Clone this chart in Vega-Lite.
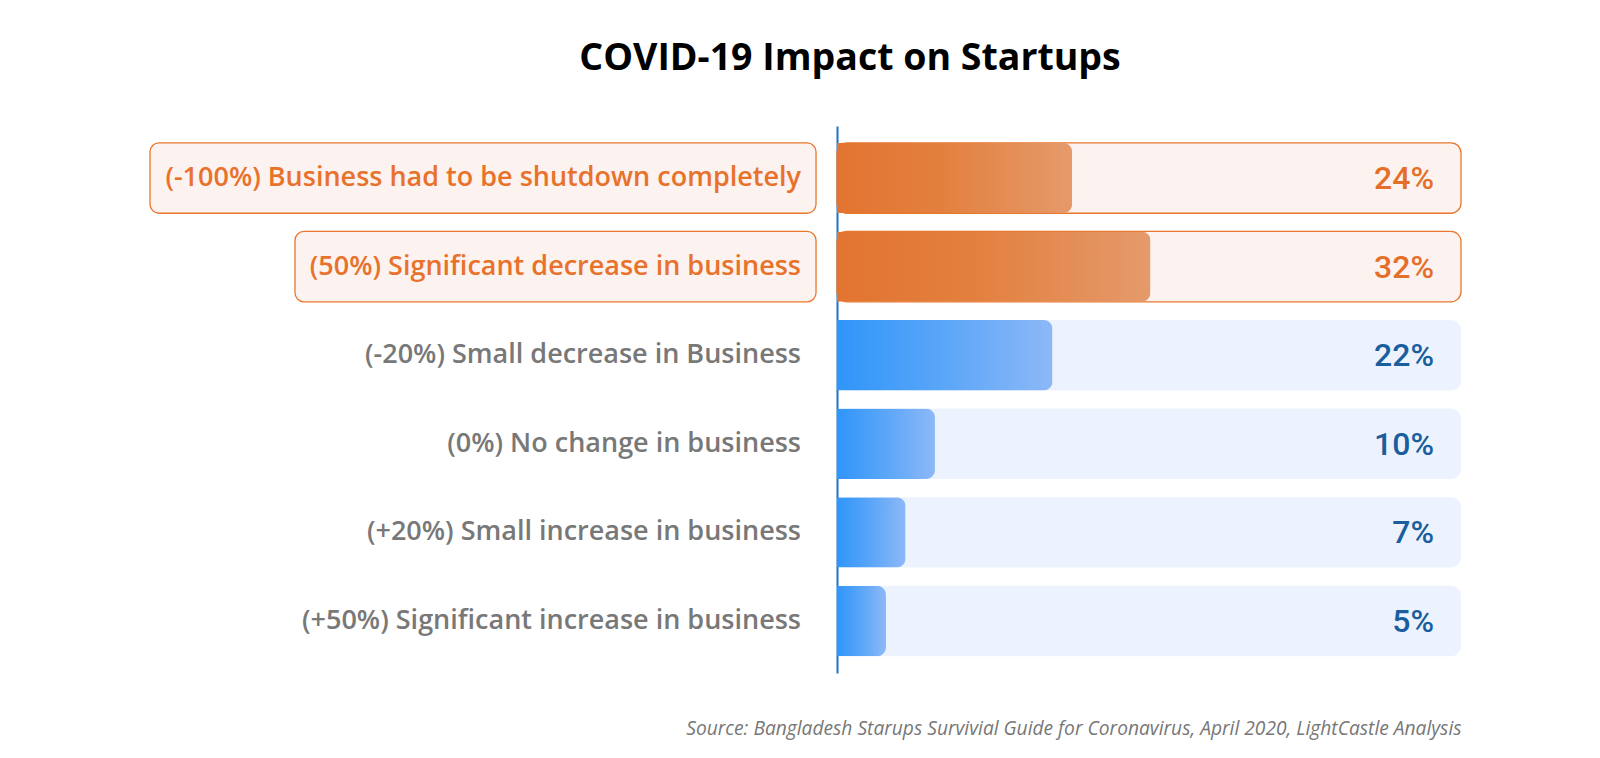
{
  "$schema": "https://vega.github.io/schema/vega-lite/v6.json",
  "autosize": "none",
  "width": 624,
  "height": 547,
  "padding": {"left": 837, "top": 126, "right": 139, "bottom": 85},
  "background": "#ffffff",
  "config": {"view": {"stroke": null}},
  "title": {
    "text": "COVID-19 Impact on Startups",
    "font": "Open Sans",
    "fontSize": 37.5,
    "fontWeight": "bold",
    "color": "#000000",
    "anchor": "middle",
    "frame": "group",
    "dx": -299,
    "baseline": "alphabetic",
    "offset": 19
  },
  "data": {
    "values": [
      {"label": "(-100%) Business had to be shutdown completely", "value": 24, "hl": true},
      {"label": "(50%) Significant decrease in business", "value": 32, "hl": true},
      {"label": "(-20%) Small decrease in Business", "value": 22, "hl": false},
      {"label": "(0%) No change in business", "value": 10, "hl": false},
      {"label": "(+20%) Small increase in business", "value": 7, "hl": false},
      {"label": "(+50%) Significant increase in business", "value": 5, "hl": false}
    ]
  },
  "transform": [
    {"calculate": "datum.value + '%'", "as": "pct"}
  ],
  "layer": [
    {
      "mark": {"type": "bar", "cornerRadius": 10, "stroke": "#E8762D", "strokeWidth": 1.3},
      "encoding": {
        "y": {
          "field": "label",
          "type": "nominal",
          "sort": null,
          "scale": {"paddingInner": 0.205, "paddingOuter": 0.19},
          "axis": {"labels": false, "ticks": false, "title": null, "domain": true, "domainColor": "#1B74C4", "domainWidth": 2}
        },
        "x": {
          "datum": 63.7,
          "type": "quantitative",
          "scale": {"domain": [0, 63.7], "nice": false, "zero": false},
          "axis": {
            "labels": false, "ticks": false, "domain": false, "grid": false,
            "title": "Source: Bangladesh Starups Survivial Guide for Coronavirus, April 2020, LightCastle Analysis",
            "titleFont": "Open Sans", "titleFontStyle": "italic", "titleFontWeight": "normal",
            "titleFontSize": 19.2, "titleColor": "#777777", "titleAnchor": "end", "titleAlign": "right",
            "titleBaseline": "alphabetic", "titlePadding": 61
          }
        },
        "fill": {"condition": {"test": "datum.hl", "value": "#FCF2EF"}, "value": "#EDF3FE"},
        "strokeOpacity": {"condition": {"test": "datum.hl", "value": 1}, "value": 0}
      }
    },
    {
      "transform": [{"filter": "datum.hl"}],
      "mark": {
        "type": "bar", "cornerRadiusEnd": 9,
        "color": {"gradient": "linear", "x1": 0, "y1": 0, "x2": 1, "y2": 0,
          "stops": [{"offset": 0, "color": "#E27430"}, {"offset": 0.45, "color": "#E3803F"}, {"offset": 1, "color": "#E59A6B"}]}
      },
      "encoding": {
        "y": {"field": "label", "type": "nominal", "sort": null},
        "x": {"field": "value", "type": "quantitative"}
      }
    },
    {
      "transform": [{"filter": "!datum.hl"}],
      "mark": {
        "type": "bar", "cornerRadiusEnd": 9,
        "color": {"gradient": "linear", "x1": 0, "y1": 0, "x2": 1, "y2": 0,
          "stops": [{"offset": 0, "color": "#2F95F9"}, {"offset": 0.5, "color": "#5BA6F8"}, {"offset": 1, "color": "#8DB8F7"}]}
      },
      "encoding": {
        "y": {"field": "label", "type": "nominal", "sort": null},
        "x": {"field": "value", "type": "quantitative"}
      }
    },
    {
      "mark": {"type": "text", "align": "right", "baseline": "middle", "dx": -27, "dy": 1, "font": "Roboto", "fontSize": 32, "fontWeight": 500},
      "encoding": {
        "y": {"field": "label", "type": "nominal", "sort": null},
        "x": {"datum": 63.7, "type": "quantitative"},
        "text": {"field": "pct"},
        "color": {"condition": {"test": "datum.hl", "value": "#E36F2A"}, "value": "#1A5E9E"}
      }
    },
    {
      "transform": [
        {"filter": "datum.hl"},
        {"calculate": "-(length(datum.label) * 18.125 - 146.75) / 9.796", "as": "boxL"},
        {"calculate": "-2.14", "as": "boxR"}
      ],
      "mark": {"type": "bar", "cornerRadius": 9, "fill": "#FCF2EF", "stroke": "#E8762D", "strokeWidth": 1.3},
      "encoding": {
        "y": {"field": "label", "type": "nominal", "sort": null},
        "x": {"field": "boxL", "type": "quantitative"},
        "x2": {"field": "boxR"}
      }
    },
    {
      "mark": {"type": "text", "align": "right", "baseline": "middle", "dx": -36, "font": "Open Sans", "fontSize": 27, "fontWeight": 600},
      "encoding": {
        "y": {"field": "label", "type": "nominal", "sort": null},
        "x": {"datum": 0, "type": "quantitative"},
        "text": {"field": "label"},
        "color": {"condition": {"test": "datum.hl", "value": "#E8722C"}, "value": "#787878"}
      }
    }
  ]
}
